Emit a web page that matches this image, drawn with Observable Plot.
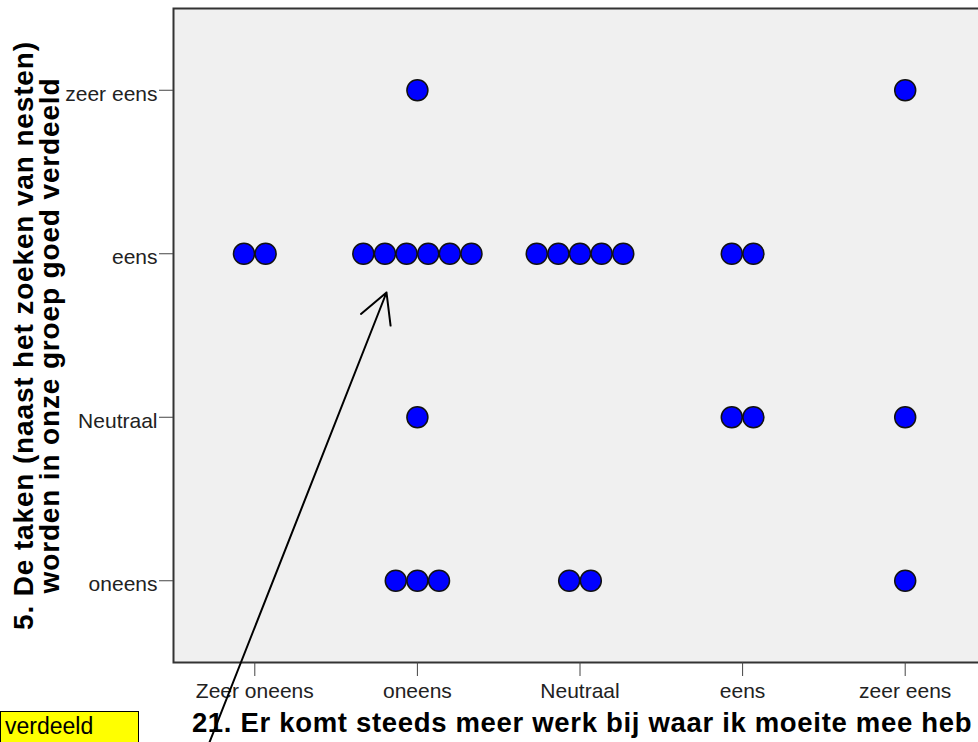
<!DOCTYPE html>
<html>
<head>
<meta charset="utf-8">
<script src="https://cdn.jsdelivr.net/npm/d3@7"></script>
<script src="https://cdn.jsdelivr.net/npm/@observablehq/plot@0.6"></script>
<style>
  html, body { margin: 0; padding: 0; overflow: hidden; background: #fff; }
  #wrap { position: relative; width: 978px; height: 742px; overflow: hidden; }
  #note { position: absolute; left: 0; top: 711px; width: 139px; height: 40px;
          background: #ffff00; border: 1.5px solid #000; box-sizing: border-box;
          font-family: "Liberation Sans", Arial, sans-serif; font-size: 23px; color: #000;
          padding: 0 0 0 4px; line-height: 28px; }
</style>
</head>
<body>
<div id="wrap"><div id="note">verdeeld</div></div>
<script>
// Categories (x: question 21, y: question 5)
const xCats = ["Zeer oneens", "oneens", "Neutraal", "eens", "zeer eens"];
const yCats = ["oneens", "Neutraal", "eens", "zeer eens"];

// Counts per cell (number of stacked dots)
const cellX = ["oneens", "zeer eens", "Zeer oneens", "oneens", "Neutraal", "eens", "oneens", "eens", "zeer eens", "oneens", "Neutraal", "zeer eens"];
const cellY = ["zeer eens", "zeer eens", "eens", "eens", "eens", "eens", "Neutraal", "Neutraal", "Neutraal", "oneens", "oneens", "oneens"];
const cellCount = [1, 1, 2, 6, 5, 2, 1, 2, 1, 3, 2, 1];

const xTitle = "21. Er komt steeds meer werk bij waar ik moeite mee heb";
const yTitle = "5. De taken (naast het zoeken van nesten)\nworden in onze groep goed verdeeld";

// Annotation arrow (in category units)
const arrowFrom = [-0.279, -0.989];
const arrowTo = [0.81, 1.763];

const dotStep = 0.133; // spacing of stacked dots in category units

const dots = [];
cellCount.forEach((n, k) => {
  const xi = xCats.indexOf(cellX[k]);
  const yi = yCats.indexOf(cellY[k]);
  for (let i = 0; i < n; i++) dots.push({x: xi + (i - (n - 1) / 2) * dotStep, y: yi});
});

const font = "'Liberation Sans', Arial, sans-serif";

const chart = Plot.plot({
  width: 986,
  height: 742,
  marginLeft: 173,
  marginRight: 0,
  marginTop: 8,
  marginBottom: 80,
  style: {fontFamily: font, fontSize: "21px", color: "#222", background: "transparent", overflow: "visible", maxWidth: "none"},
  x: {domain: [-0.5, 4.5], label: null},
  y: {domain: [-0.5, 3.5], label: null},
  marks: [
    Plot.frame({fill: "#f0f0f0", stroke: "#333", strokeWidth: 2}),
    Plot.axisX({ticks: d3.range(xCats.length), tickFormat: i => xCats[i], tickSize: 14, tickPadding: 7,
                fontSize: 21, stroke: "#444", fill: "#222"}),
    Plot.axisY({ticks: d3.range(yCats.length), tickFormat: i => yCats[i], tickSize: 14,
                stroke: "#444", fill: "none"}),
    Plot.axisY({ticks: d3.range(yCats.length), tickFormat: i => yCats[i], tickSize: 0, tickPadding: 16,
                dy: 4, fontSize: 21, stroke: "none", fill: "#222"}),
    Plot.dot(dots, {x: "x", y: "y", r: 10.5, fill: "#0000ff", stroke: "#111", strokeWidth: 1.5}),
    Plot.arrow([{a: arrowFrom, b: arrowTo}], {x1: d => d.a[0], y1: d => d.a[1], x2: d => d.b[0], y2: d => d.b[1],
                stroke: "#000", strokeWidth: 2, headLength: 25, headAngle: 57, clip: false}),
    Plot.text([xTitle], {text: d => d, frameAnchor: "bottom", textAnchor: "middle", lineAnchor: "middle",
                dx: 2, dy: 60.2, fontSize: 27.5, fontWeight: "bold", fontFamily: font, fill: "#000"}),
    Plot.text([yTitle], {text: d => d, frameAnchor: "left", textAnchor: "middle", lineAnchor: "middle",
                rotate: -90, dx: -136, lineHeight: 0.93, fontSize: 28, fontWeight: "bold",
                fontFamily: font, fill: "#000"})
  ]
});
chart.style.maxWidth = "none";
// letter spacing of the bold axis titles
d3.select(chart).selectAll("text").each(function () {
  const t = this.textContent;
  if (t === xTitle) this.style.letterSpacing = "0.68px";
  else if (t.startsWith("5. De taken")) this.style.letterSpacing = "0.85px";
});
const wrap = document.getElementById("wrap");
wrap.insertBefore(chart, wrap.firstChild);
chart.style.position = "absolute";
chart.style.left = "0";
chart.style.top = "0";
</script>
</body>
</html>
